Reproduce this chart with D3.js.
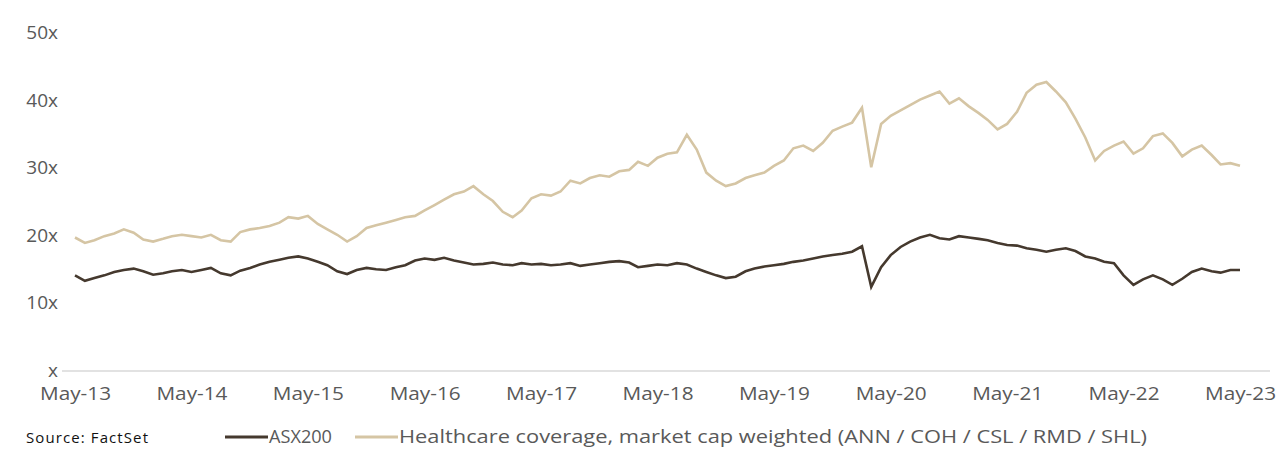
<!DOCTYPE html>
<html>
<head>
<meta charset="utf-8">
<script src="https://cdn.jsdelivr.net/npm/d3@7"></script>
<style>
  body { margin: 0; background: #fff; }
  text { font-family: "Open Sans", "Noto Sans", sans-serif; fill: #595959; }
</style>
</head>
<body>
<div class="chart-container"></div>
<script>
// monthly values, May-13 .. May-23
const startMonth = new Date(2013, 4, 1);
const asx200 = [
  14.0, 13.2, 13.6, 14.0, 14.5, 14.8, 15.0, 14.6, 14.1, 14.3, 14.6, 14.8,
  14.5, 14.8, 15.1, 14.3, 14.0, 14.7, 15.1, 15.6, 16.0, 16.3, 16.6, 16.8,
  16.5, 16.0, 15.5, 14.6, 14.2, 14.8, 15.1, 14.9, 14.8, 15.2, 15.5, 16.2,
  16.5, 16.3, 16.6, 16.2, 15.9, 15.6, 15.7, 15.9, 15.6, 15.5, 15.8, 15.6,
  15.7, 15.5, 15.6, 15.8, 15.4, 15.6, 15.8, 16.0, 16.1, 15.9, 15.2, 15.4,
  15.6, 15.5, 15.8, 15.6, 15.0, 14.5, 14.0, 13.6, 13.8, 14.6, 15.0, 15.3,
  15.5, 15.7, 16.0, 16.2, 16.5, 16.8, 17.0, 17.2, 17.5, 18.3, 12.3, 15.2,
  17.0, 18.2, 19.0, 19.6, 20.0, 19.5, 19.3, 19.8, 19.6, 19.4, 19.2, 18.8,
  18.5, 18.4, 18.0, 17.8, 17.5, 17.8, 18.0, 17.6, 16.8, 16.5, 16.0, 15.8,
  14.0, 12.6, 13.4, 14.0, 13.4, 12.6, 13.5, 14.5, 15.0, 14.6, 14.4, 14.8,
  14.8
];
const healthcare = [
  19.6, 18.8, 19.2, 19.8, 20.2, 20.8, 20.3, 19.3, 19.0, 19.4, 19.8, 20.0,
  19.8, 19.6, 20.0, 19.2, 19.0, 20.4, 20.8, 21.0, 21.3, 21.8, 22.6, 22.4,
  22.8, 21.6, 20.8, 20.0, 19.0, 19.8, 21.0, 21.4, 21.8, 22.2, 22.6, 22.8,
  23.6, 24.4, 25.2, 26.0, 26.4, 27.2, 26.0, 25.0, 23.4, 22.6, 23.6, 25.4,
  26.0, 25.8, 26.4, 28.0, 27.6, 28.4, 28.8, 28.6, 29.4, 29.6, 30.8, 30.2,
  31.4, 32.0, 32.2, 34.8, 32.6, 29.2, 28.0, 27.2, 27.6, 28.4, 28.8, 29.2,
  30.2, 31.0, 32.8, 33.2, 32.4, 33.6, 35.4, 36.0, 36.6, 38.8, 30.0, 36.4,
  37.6, 38.4, 39.2, 40.0, 40.6, 41.2, 39.4, 40.2, 39.0, 38.0, 37.0, 35.6,
  36.4, 38.2, 41.0, 42.2, 42.6, 41.2, 39.6, 37.2, 34.4, 31.0, 32.4, 33.2,
  33.8, 32.0, 32.8, 34.6, 35.0, 33.6, 31.6, 32.6, 33.2, 31.8, 30.4, 30.6,
  30.2
];
const yTicks = [0, 10, 20, 30, 40, 50];
const seriesNames = ['ASX200', 'Healthcare coverage, market cap weighted (ANN / COH / CSL / RMD / SHL)'];
const seriesColors = ['#45392e', '#d5c5a4'];

const width = 1284, height = 464;
const dates = asx200.map((d, i) => new Date(2013, 4 + i, 1));

const x = d3.scaleTime()
  .domain([startMonth, new Date(2023, 4, 1)])
  .range([75, 1240]);
const y = d3.scaleLinear().domain([0, 50]).range([370, 32]);

const svg = d3.select('.chart-container').append('svg')
  .attr('width', width).attr('height', height);

// y labels
svg.selectAll('.ylab').data(yTicks).enter().append('text')
  .attr('x', 58).attr('y', d => y(d) + 7)
  .attr('text-anchor', 'end').style('font-size', '19px')
  .text(d => (d === 0 ? '' : d) + 'x');

// base line
svg.append('line').attr('x1', 62).attr('x2', 1270)
  .attr('y1', 371).attr('y2', 371)
  .attr('stroke', '#d9d9d9').attr('stroke-width', 1.5);

// x axis
const xAxis = svg.append('g').attr('transform', 'translate(0,371)')
  .call(d3.axisBottom(x)
    .tickValues(d3.range(2013, 2024).map(yr => new Date(yr, 4, 1)))
    .tickFormat(d3.timeFormat('May-%y')).tickSize(0).tickPadding(16));
xAxis.select('.domain').remove();
xAxis.selectAll('text').style('font-size', '19px').attr('fill', '#595959')
  .attr('textLength', 71).attr('lengthAdjust', 'spacingAndGlyphs');

const line = d3.line().x((d, i) => x(dates[i])).y(d => y(d));
[healthcare, asx200].forEach((s, k) => {
  svg.append('path').datum(s)
    .attr('fill', 'none')
    .attr('stroke', seriesColors[1 - k])
    .attr('stroke-width', 2.6)
    .attr('d', line);
});

// legend
svg.append('text').attr('x', 26).attr('y', 443).style('font-size', '15px')
  .style('fill', '#111').attr('textLength', 122).text('Source: FactSet');
const lx = [225, 355];
const tl = [63, 748];
seriesNames.forEach((n, i) => {
  svg.append('line').attr('x1', lx[i]).attr('x2', lx[i] + 43)
    .attr('y1', 437).attr('y2', 437)
    .attr('stroke', seriesColors[i]).attr('stroke-width', 3);
  svg.append('text').attr('x', lx[i] + 44).attr('y', 443)
    .style('font-size', '18px').attr('textLength', tl[i])
    .attr('lengthAdjust', 'spacingAndGlyphs').text(n);
});
</script>
</body>
</html>
